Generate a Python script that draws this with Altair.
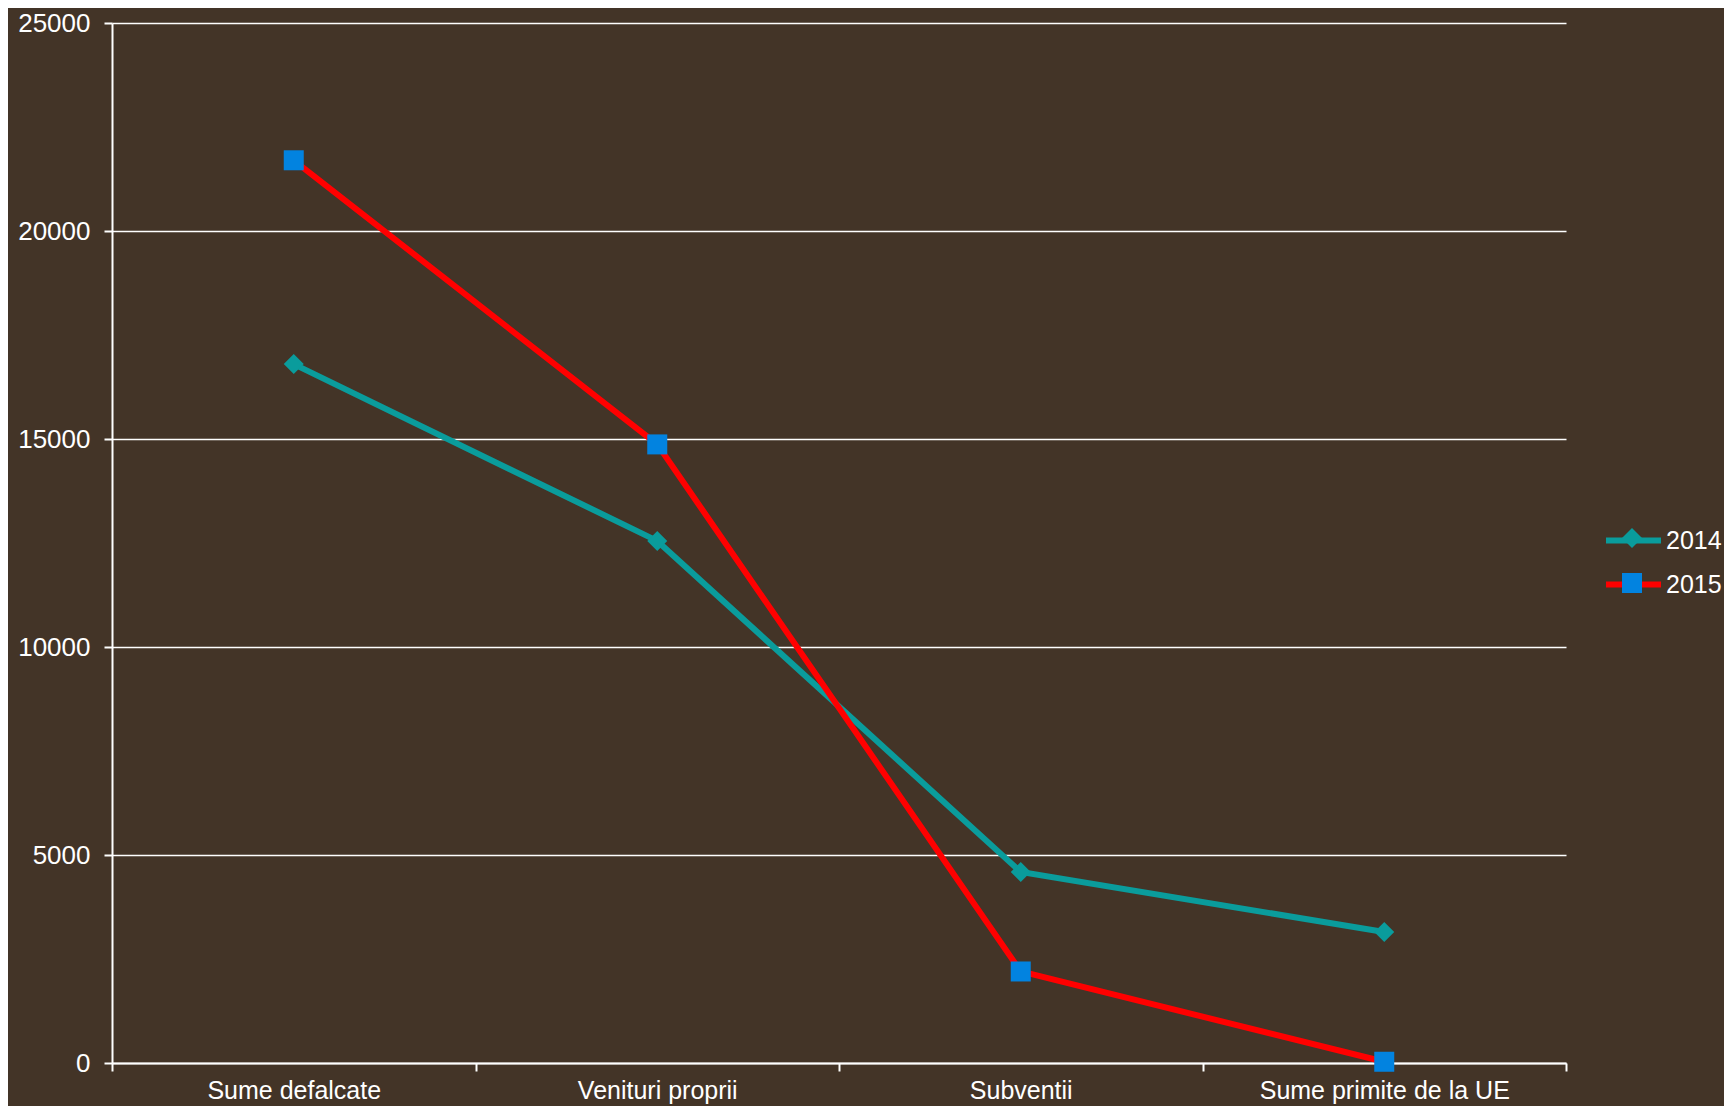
import altair as alt
import pandas as pd

categories = ["Sume defalcate", "Venituri proprii", "Subventii", "Sume primite de la UE"]
series_names = ["2014", "2015"]
marker_keys = ["m2014", "m2015"]
values_2014 = [16800, 12550, 4590, 3150]
values_2015 = [21700, 14870, 2200, 30]

rows = []
for s, m, vals in zip(series_names, marker_keys, [values_2014, values_2015]):
    for c, v in zip(categories, vals):
        rows.append({"cat": c, "series": s, "series_m": m, "value": v})
df = pd.DataFrame(rows)

FONT = "Liberation Sans"
line_colors = ["#0a9c9c", "#ff0000"]
marker_colors = ["#0a9c9c", "#0283e0"]

x = alt.X("cat:N", sort=categories, title=None,
          scale=alt.Scale(type="band", paddingInner=0, paddingOuter=0),
          axis=alt.Axis(tickBand="extent", labelAngle=0, labelColor="white",
                        labelFont=FONT, labelFontSize=25, labelPadding=7, labelLimit=0,
                        tickColor="white", tickSize=8, tickWidth=2,
                        domainColor="white", domainWidth=2, grid=False))
y = alt.Y("value:Q", title=None,
          scale=alt.Scale(domain=[0, 25000]),
          axis=alt.Axis(values=[0, 5000, 10000, 15000, 20000, 25000], format="d",
                        labelColor="white", labelFont=FONT, labelFontSize=26,
                        labelPadding=14, tickColor="white", tickSize=8, tickWidth=2,
                        domainColor="white", domainWidth=2,
                        grid=True, gridColor="white", gridWidth=1.5))

lines = alt.Chart(df).mark_line(strokeWidth=6).encode(
    x=x, y=y,
    stroke=alt.Stroke("series:N", scale=alt.Scale(domain=series_names, range=line_colors),
                      legend=alt.Legend(title=None, orient="none", legendX=1491, legendY=487,
                                        symbolType="stroke", symbolSize=3025,
                                        symbolStrokeWidth=6, labelOffset=2,
                                        labelColor="white", labelFont=FONT,
                                        labelFontSize=25, rowPadding=-10, padding=0)),
    detail="series:N",
)

marker_legend = alt.Legend(title=None, orient="none", legendX=1510, legendY=505,
                           symbolSize=400, labelExpr="''", labelFontSize=1,
                           labelOffset=0, rowPadding=25,
                           padding=0, symbolStrokeWidth=0, symbolOpacity=1)

points = alt.Chart(df).mark_point(filled=True, opacity=1, size=400).encode(
    x=x, y=y,
    fill=alt.Fill("series_m:N", scale=alt.Scale(domain=marker_keys, range=marker_colors),
                  legend=marker_legend),
    shape=alt.Shape("series_m:N", scale=alt.Scale(domain=marker_keys, range=["diamond", "square"]),
                    legend=marker_legend),
)

chart = alt.layer(lines, points).properties(
    width=1454, height=1040,
    background="#433427",
    padding={"left": 104, "top": 15, "right": 158, "bottom": 43},
    autosize=alt.AutoSizeParams(type="none"),
).configure_view(stroke=None)

chart.save("out.html", embed_options={"renderer": "svg", "actions": False})
